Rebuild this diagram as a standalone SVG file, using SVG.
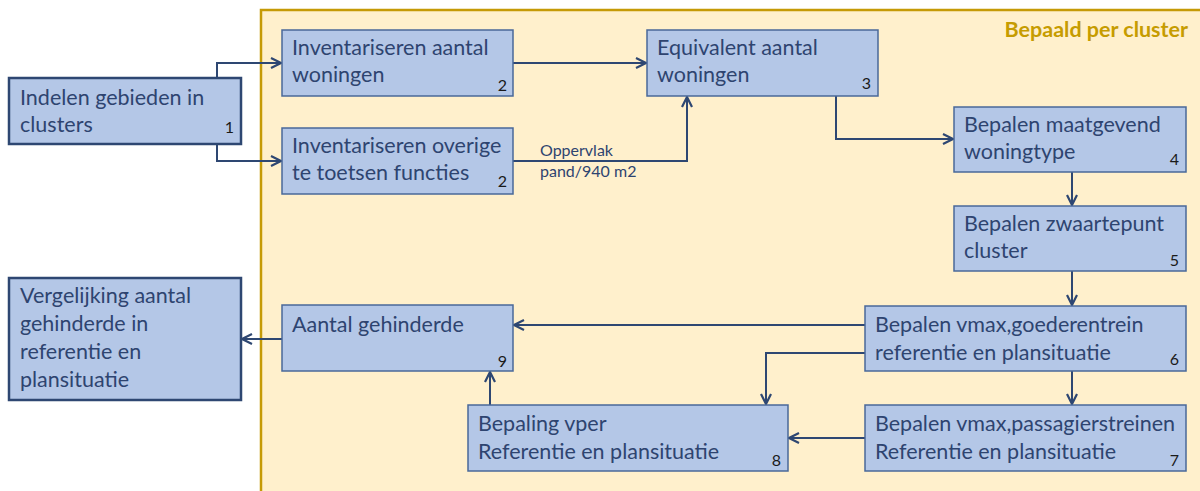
<svg xmlns="http://www.w3.org/2000/svg" width="1200" height="491" viewBox="0 0 1200 491">
<defs>
<marker id="arr" viewBox="0 0 12 12" refX="11" refY="6" markerWidth="12" markerHeight="12" markerUnits="userSpaceOnUse" orient="auto">
<path d="M1,1 L11,6 L1,11" fill="none" stroke="#2E4772" stroke-width="2.2" stroke-linejoin="miter"/>
</marker>
<style>
.box{fill:#B4C7E7;stroke:#4A6899;stroke-width:1.5}
.obox{fill:#B4C7E7;stroke:#2E4772;stroke-width:2.5}
.t{font-family:Lato,"Liberation Sans",sans-serif;font-size:21.5px;fill:#2E4470}
.n{font-family:Lato,"Liberation Sans",sans-serif;font-size:16px;fill:#1A1A1A;text-anchor:end}
.lbl{font-family:Lato,"Liberation Sans",sans-serif;font-size:16px;fill:#2E4470}
.c{fill:none;stroke:#2E4772;stroke-width:2;marker-end:url(#arr)}
</style>
</defs>
<rect width="1200" height="491" fill="#FFFFFF"/>
<g id="cluster">
<rect x="261" y="10" width="960" height="500" fill="#FFF0CC" stroke="#C59A06" stroke-width="2.5"/>
<text x="1188" y="37" text-anchor="end" style="font-family:Lato,'Liberation Sans',sans-serif;font-size:21.5px;font-weight:bold;fill:#C69C00">Bepaald per cluster</text>
</g>
<g id="connectors">
<path class="c" d="M217,78 V63 H281"/>
<path class="c" d="M217,144 V161 H281"/>
<path class="c" d="M513,63 H646"/>
<path class="c" d="M513,161 H687 V97"/>
<path class="c" d="M836,96 V139 H953"/>
<path class="c" d="M1072,172 V205"/>
<path class="c" d="M1072,271 V305"/>
<path class="c" d="M1072,371 V404"/>
<path class="c" d="M865,325 H514"/>
<path class="c" d="M865,353 H766 V404"/>
<path class="c" d="M865,438 H789"/>
<path class="c" d="M490,405 V372"/>
<path class="c" d="M282,339 H242"/>
<text class="lbl" x="540" y="156">Oppervlak</text>
<text class="lbl" x="540" y="177">pand/940 m2</text>
</g>
<g id="n1">
<rect class="obox" x="9" y="78" width="232" height="66"/>
<text class="t" x="20" y="105">Indelen gebieden in</text>
<text class="t" x="20" y="132">clusters</text>
<text class="n" x="234" y="133">1</text>
</g>
<g id="n2a">
<rect class="box" x="282" y="30" width="231" height="66"/>
<text class="t" x="292" y="55">Inventariseren aantal</text>
<text class="t" x="292" y="82">woningen</text>
<text class="n" x="507" y="91">2</text>
</g>
<g id="n2b">
<rect class="box" x="282" y="128" width="231" height="66"/>
<text class="t" x="292" y="153">Inventariseren overige</text>
<text class="t" x="292" y="180">te toetsen functies</text>
<text class="n" x="507" y="187">2</text>
</g>
<g id="n3">
<rect class="box" x="647" y="30" width="231" height="66"/>
<text class="t" x="657" y="55">Equivalent aantal</text>
<text class="t" x="657" y="82">woningen</text>
<text class="n" x="871" y="89">3</text>
</g>
<g id="n4">
<rect class="box" x="954" y="107" width="232" height="65"/>
<text class="t" x="964" y="132">Bepalen maatgevend</text>
<text class="t" x="964" y="159">woningtype</text>
<text class="n" x="1179" y="165">4</text>
</g>
<g id="n5">
<rect class="box" x="954" y="206" width="232" height="65"/>
<text class="t" x="964" y="231">Bepalen zwaartepunt</text>
<text class="t" x="964" y="258">cluster</text>
<text class="n" x="1179" y="266">5</text>
</g>
<g id="n6">
<rect class="box" x="865" y="306" width="321" height="65"/>
<text class="t" x="875" y="332">Bepalen vmax,goederentrein</text>
<text class="t" x="875" y="360">referentie en plansituatie</text>
<text class="n" x="1179" y="365">6</text>
</g>
<g id="n7">
<rect class="box" x="865" y="405" width="321" height="66"/>
<text class="t" x="875" y="431">Bepalen vmax,passagierstreinen</text>
<text class="t" x="875" y="459">Referentie en plansituatie</text>
<text class="n" x="1179" y="466">7</text>
</g>
<g id="n8">
<rect class="box" x="468" y="405" width="320" height="66"/>
<text class="t" x="478" y="431">Bepaling vper</text>
<text class="t" x="478" y="459">Referentie en plansituatie</text>
<text class="n" x="781" y="466">8</text>
</g>
<g id="n9">
<rect class="box" x="282" y="305" width="231" height="66"/>
<text class="t" x="292" y="332">Aantal gehinderde</text>
<text class="n" x="507" y="367">9</text>
</g>
<g id="n10">
<rect class="obox" x="9" y="278" width="232" height="122"/>
<text class="t" x="20" y="303">Vergelijking aantal</text>
<text class="t" x="20" y="331">gehinderde in</text>
<text class="t" x="20" y="359">referentie en</text>
<text class="t" x="20" y="387">plansituatie</text>
</g>
</svg>
